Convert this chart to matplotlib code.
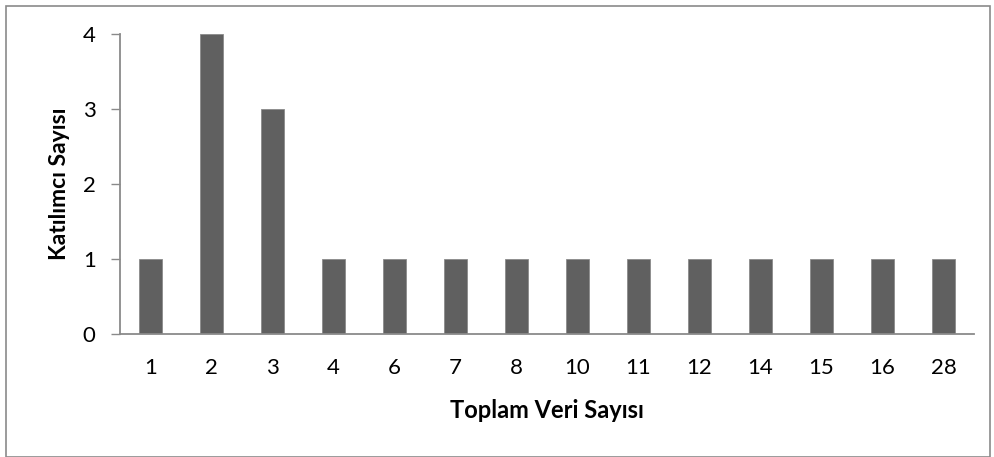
import matplotlib.pyplot as plt
from matplotlib.patches import Rectangle

plt.rcParams['font.family'] = ['Lato', 'DejaVu Sans']

categories = ['1', '2', '3', '4', '6', '7', '8', '10', '11', '12', '14', '15', '16', '28']
counts = [1, 4, 3, 1, 1, 1, 1, 1, 1, 1, 1, 1, 1, 1]

W, H = 994, 457
fig = plt.figure(figsize=(W / 100, H / 100), dpi=100)
ax = fig.add_axes([120 / W, (H - 333.5) / H, 854 / W, 299.2 / H])

x = range(len(categories))
ax.bar(x, counts, width=0.39, color='#606060', edgecolor='#8a8a8a', linewidth=0.6)

ax.set_xlim(-0.5, len(categories) - 0.5)
ax.set_ylim(0, 4)
ax.set_yticks([0, 1, 2, 3, 4])
ax.set_xticks(list(x))
ax.set_xticklabels(categories)

for s in ['top', 'right']:
    ax.spines[s].set_visible(False)
for s in ['left', 'bottom']:
    ax.spines[s].set_color('#8a8a8a')
    ax.spines[s].set_linewidth(1.3)

ax.tick_params(axis='y', length=6.5, width=1, color='#8a8a8a', pad=11, labelsize=16)
ax.tick_params(axis='x', length=0, pad=18, labelsize=16)

# axis titles placed in figure pixels
fig.text(547 / W, 1 - 411 / H, 'Toplam Veri Sayısı', fontsize=17, fontweight='bold',
         ha='center', va='center')
fig.text(59 / W, 1 - 184 / H, 'Katılımcı Sayısı', fontsize=16.5, fontweight='bold',
         ha='center', va='center', rotation=90)

fig.patches.append(Rectangle((6 / W, 0.5 / H), 984 / W, (H - 6) / H,
                             transform=fig.transFigure, fill=False,
                             edgecolor='#8a8a8a', linewidth=1.2))

fig.savefig('out.png', dpi=100)
